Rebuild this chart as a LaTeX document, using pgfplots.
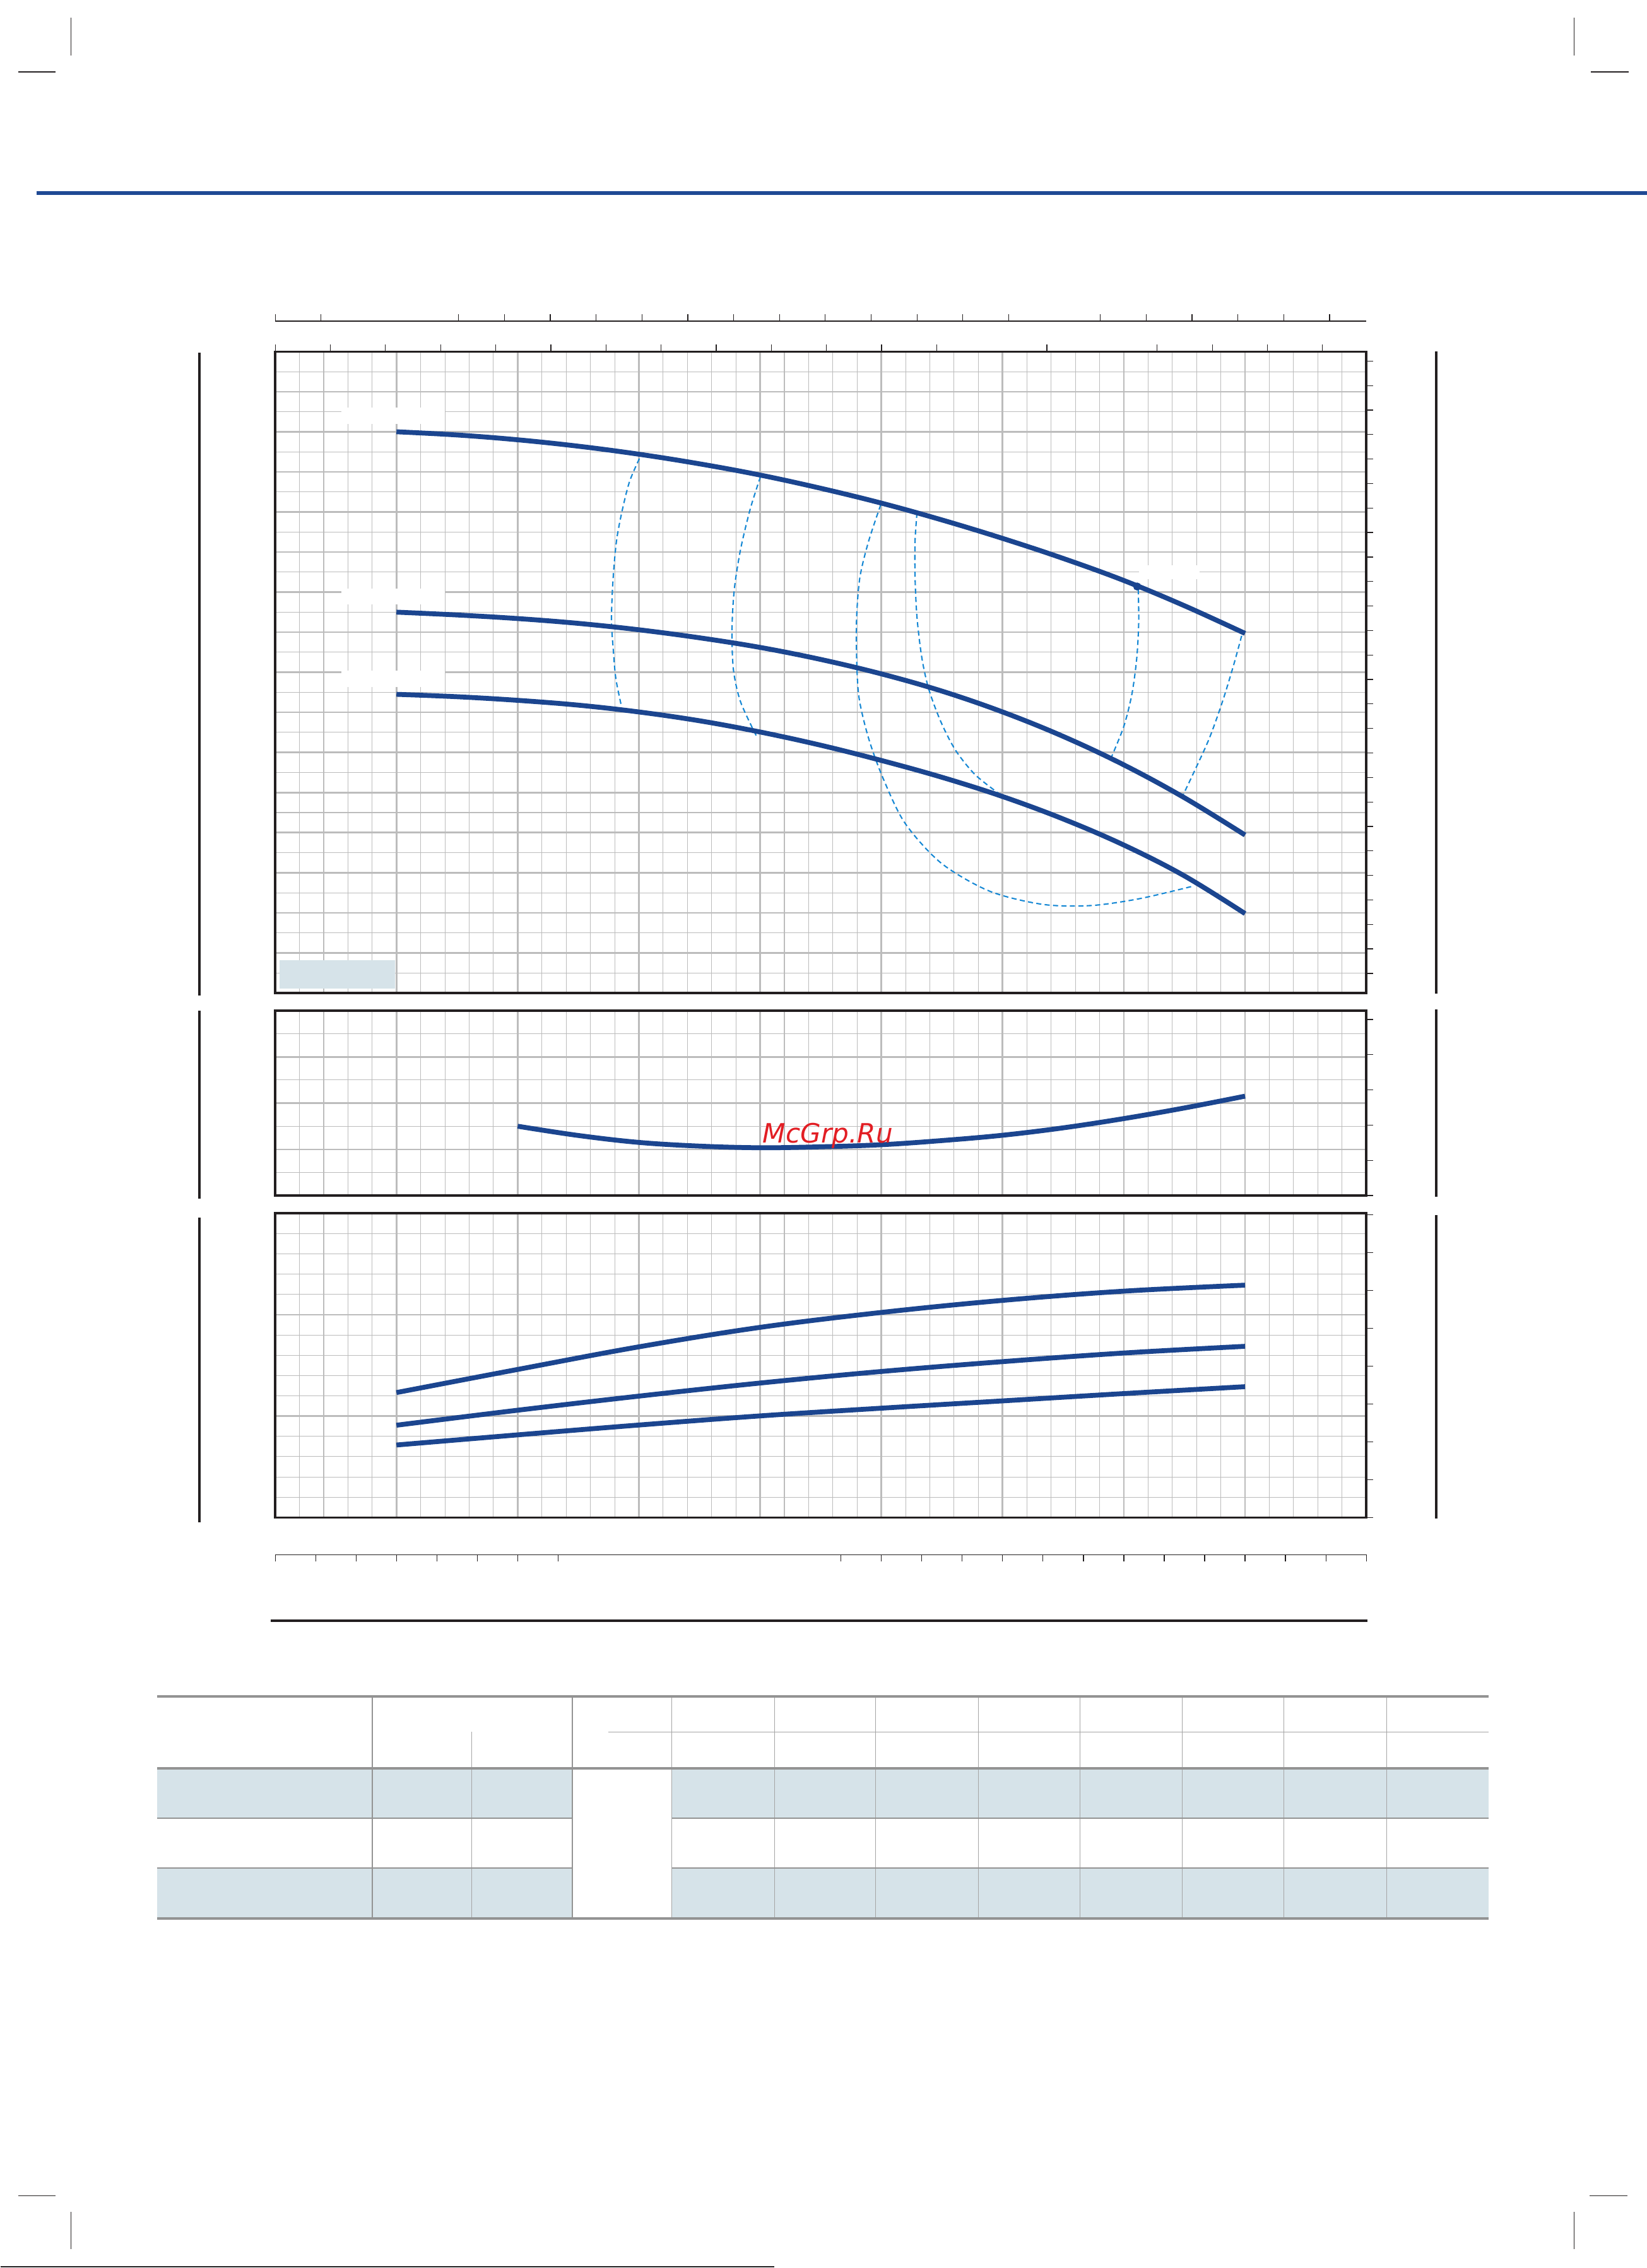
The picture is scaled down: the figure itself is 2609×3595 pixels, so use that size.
\documentclass[border=0pt]{standalone}
\usepackage{fontspec}
\usepackage{pgfplots}
\pgfplotsset{compat=1.18}
\newfontfamily\wmfont{DejaVu Sans}
\definecolor{curveblue}{RGB}{27,69,143}
\definecolor{dashblue}{RGB}{22,136,212}
\definecolor{gridgray}{RGB}{188,188,188}
\definecolor{framecol}{RGB}{35,31,32}
\definecolor{lightfill}{RGB}{214,227,233}
\definecolor{tablegray}{RGB}{147,147,147}
\definecolor{thingray}{RGB}{165,165,165}
\definecolor{ruleblue}{RGB}{31,73,148}
\definecolor{wmred}{RGB}{226,30,36}
\pgfplotsset{
 panel/.style={scale only axis, anchor=north west, width=17.28cm,
   xmin=0, xmax=9, xtick={0,...,9}, minor x tick num=4, grid=both,
   major grid style={draw=gridgray, line width=0.75pt},
   minor grid style={draw=gridgray, line width=0.3pt},
   major tick length=0pt, minor tick length=0pt,
   xticklabels={}, yticklabels={},
   axis line style={draw=framecol, line width=0.95pt}},
 tickaxis/.style={scale only axis, anchor=north west, width=17.28cm,
   xmin=0, xmax=1728, tick align=outside, major tick length=0.11cm,
   tick style={draw=framecol, line width=0.35pt},
   xticklabels={}, yticklabels={},
   axis line style={draw=framecol, line width=0.95pt, -}},
 hcurve/.style={curveblue, line width=2.2pt, smooth, tension=0.6, no markers},
 dcurve/.style={dashblue, line width=0.6pt, dash pattern=on 2.3pt off 1.5pt, smooth, no markers},
}
\begin{document}
\begin{tikzpicture}
\begin{scope}[x=0.01cm,y=-0.01cm]
\path[use as bounding box] (0,0) rectangle (2609,3595);
\end{scope}

% ---------- main panel (head) ----------
\begin{axis}[panel, at={(4.35cm,-5.57cm)}, height=10.16cm,
  ymin=0, ymax=16, ytick={0,...,16}, minor y tick num=1]
\fill[white] (0.547,14.19) rectangle (1.398,14.61);
\fill[white] (0.547,9.69) rectangle (1.398,10.09);
\fill[white] (0.547,7.63) rectangle (1.398,8.04);
\fill[white] (7.127,10.32) rectangle (7.625,10.67);
\fill[lightfill] (0.036,0.115) rectangle (0.988,0.819);
% efficiency iso-lines
\addplot[dcurve] coordinates {(3.004,13.33) (2.923,12.76) (2.864,12.06) (2.819,11.36) (2.795,10.66) (2.780,9.95) (2.774,9.25) (2.789,8.55) (2.810,7.84) (2.857,7.14)};
\addplot[dcurve] coordinates {(4.003,12.88) (3.919,12.08) (3.839,11.07) (3.787,10.07) (3.768,9.06) (3.780,8.06) (3.839,7.26) (3.971,6.40)};
\addplot[dcurve] coordinates {(4.995,12.18) (4.895,11.27) (4.823,10.37) (4.796,9.37) (4.796,8.36) (4.816,7.36) (4.895,6.35) (5.015,5.35) (5.194,4.24) (5.493,3.24) (5.892,2.54) (6.330,2.21) (6.728,2.18) (7.127,2.35) (7.565,2.66)};
\addplot[dcurve] coordinates {(5.294,11.98) (5.278,11.27) (5.278,10.37) (5.294,9.37) (5.334,8.36) (5.393,7.56) (5.493,6.75) (5.613,6.05) (5.772,5.45) (5.971,4.97)};
\addplot[dcurve] coordinates {(7.119,10.07) (7.123,9.26) (7.107,8.36) (7.067,7.46) (7.000,6.65) (6.900,5.90)};
\addplot[dcurve] coordinates {(7.972,8.91) (7.904,8.16) (7.813,7.26) (7.705,6.35) (7.585,5.55) (7.478,4.87)};
% head curves
\addplot[hcurve] coordinates {(1,14.00) (1.5,13.92) (2,13.80) (2.5,13.64) (3,13.44) (3.5,13.20) (4,12.92) (4.5,12.59) (5,12.22) (5.5,11.80) (6,11.34) (6.5,10.84) (7,10.29) (7.5,9.66) (8,8.97)};
\addplot[hcurve] coordinates {(1,9.50) (1.5,9.43) (2,9.34) (2.5,9.22) (3,9.06) (3.5,8.86) (4,8.62) (4.5,8.32) (5,7.96) (5.5,7.53) (6,7.01) (6.5,6.40) (7,5.69) (7.5,4.87) (8,3.94)};
\addplot[hcurve] coordinates {(1,7.45) (1.5,7.39) (2,7.30) (2.5,7.18) (3,7.01) (3.5,6.79) (4,6.51) (4.5,6.18) (5,5.80) (5.5,5.38) (6,4.90) (6.5,4.34) (7,3.69) (7.5,2.92) (8,1.98)};
\addplot[only marks, mark=*, mark size=1.6pt, curveblue] coordinates {(7.11,10.14)};
\end{axis}
\begin{axis}[tickaxis, at={(4.35cm,-5.57cm)}, height=10.16cm, ymin=0, ymax=1016,
  axis x line*=top, axis y line*=right,
  xtick={0,87.3,174.6,261.9,349.2,436.5,523.8,611.1,698.4,785.7,873,960.3,1047.6,1222.2,1396.8,1484.1,1571.4,1658.7},
  ytick={31,69.8,...,1002}]
\addplot[draw=none] coordinates {(0,0)};
\end{axis}
% top secondary scale
\begin{axis}[tickaxis, at={(4.35cm,-5.09cm)}, height=0.2cm, ymin=0, ymax=1,
  axis x line*=top, axis y line=none, ytick=\empty,
  axis line style={line width=0.45pt},
  xtick={0,72.6,290.4,363,435.6,508.2,580.8,653.4,726,798.6,871.2,943.8,1016.4,1089,1161.6,1306.8,1379.4,1452,1524.6,1597.2,1669.8}]
\addplot[draw=none] coordinates {(0,0)};
\end{axis}

% ---------- middle panel ----------
\begin{axis}[panel, at={(4.35cm,-16.01cm)}, height=2.93cm,
  ymin=0, ymax=4, ytick={0,...,4}, minor y tick num=1]
\addplot[hcurve] coordinates {(2,1.50) (2.5,1.30) (3,1.15) (3.5,1.07) (4,1.035) (4.5,1.055) (5,1.10) (5.5,1.19) (6,1.305) (6.5,1.465) (7,1.665) (7.5,1.895) (8,2.15)};
\end{axis}
\begin{axis}[tickaxis, at={(4.35cm,-16.01cm)}, height=2.93cm, ymin=0, ymax=293,
  axis x line=none, axis y line*=right, xtick=\empty,
  ytick={0,55.8,111.6,167.4,223.2,279}]
\addplot[draw=none] coordinates {(0,0)};
\end{axis}

% ---------- bottom panel ----------
\begin{axis}[panel, at={(4.35cm,-19.22cm)}, height=4.82cm,
  ymin=0, ymax=3, ytick={0,...,3}, minor y tick num=4]
\addplot[hcurve] coordinates {(1,1.232) (2,1.46) (3,1.683) (4,1.875) (5,2.022) (6,2.141) (7,2.232) (8,2.291)};
\addplot[hcurve] coordinates {(1,0.91) (2,1.058) (3,1.197) (4,1.326) (5,1.44) (6,1.537) (7,1.622) (8,1.688)};
\addplot[hcurve] coordinates {(1,0.715) (2,0.815) (3,0.912) (4,1.002) (5,1.078) (6,1.150) (7,1.222) (8,1.29)};
\end{axis}
\begin{axis}[tickaxis, at={(4.35cm,-19.22cm)}, height=4.82cm, ymin=0, ymax=482,
  axis x line=none, axis y line*=right, xtick=\empty,
  ytick={0,60,...,480}]
\addplot[draw=none] coordinates {(0,0)};
\end{axis}
% bottom secondary scale
\begin{axis}[tickaxis, at={(4.35cm,-24.63cm)}, height=0.2cm, ymin=0, ymax=1,
  axis x line*=top, axis y line=none, ytick=\empty, tick align=inside,
  axis line style={line width=0.45pt},
  xtick={0,64,128,192,256,320,384,448,896,960,1024,1088,1152,1216,1280,1344,1408,1472,1536,1600,1664,1728}]
\addplot[draw=none] coordinates {(0,0)};
\end{axis}

% ---------- page decorations ----------
\begin{scope}[x=0.01cm,y=-0.01cm]
\fill[ruleblue] (57,303) rectangle (2609,309);
\begin{scope}[line width=0.3pt, framecol]
\draw (112,28)--(112,88); \draw (28,114)--(87,114);
\draw (2494,28)--(2494,88); \draw (2520,114)--(2580,114);
\draw (28,3480)--(87,3480); \draw (112,3506)--(112,3565);
\draw (2518,3480)--(2578,3480); \draw (2494,3506)--(2494,3565);
\end{scope}
\draw[line width=0.5pt, framecol] (0,3593)--(1226,3593);
% side bars
\begin{scope}[line width=1.15pt, framecol]
\draw (315,559)--(315,1578); \draw (315,1602)--(315,1900); \draw (315,1930)--(315,2413);
\draw (2275,557)--(2275,1575); \draw (2275,1600)--(2275,1897); \draw (2275,1926)--(2275,2407);
\end{scope}
\draw[line width=1.15pt, framecol] (428,2569)--(2166,2569);
% table
\fill[lightfill] (248,2803) rectangle (906,2882);
\fill[lightfill] (1064,2803) rectangle (2358,2882);
\fill[lightfill] (248,2961) rectangle (906,3041);
\fill[lightfill] (1064,2961) rectangle (2358,3041);
\begin{scope}[thingray, line width=0.3pt]
\foreach \xx in {1226.5,1387,1549.8,1710.3,1873,2033.5,2196.3} {\draw (\xx,2689)--(\xx,3041);}
\draw (1064,2689)--(1064,3041);
\draw (747,2745)--(747,3041);
\draw (963,2745)--(2358,2745);
\end{scope}
\begin{scope}[tablegray, line width=0.4pt]
\draw (248,2882)--(906,2882); \draw (1064,2882)--(2358,2882);
\draw (248,2961)--(906,2961); \draw (1064,2961)--(2358,2961);
\end{scope}
\begin{scope}[tablegray, line width=0.55pt]
\draw (589,2689)--(589,3041); \draw (906,2689)--(906,3041);
\end{scope}
\begin{scope}[tablegray, line width=0.95pt]
\draw (248,2689)--(2358,2689);
\draw (248,2803)--(2358,2803);
\draw (248,3041)--(2358,3041);
\end{scope}
% watermark
\node[text=wmred, font=\wmfont\itshape\fontsize{12}{12}\selectfont, anchor=base, inner sep=0pt] at (1311,1811) {McGrp.Ru};
\end{scope}
\end{tikzpicture}
\end{document}
